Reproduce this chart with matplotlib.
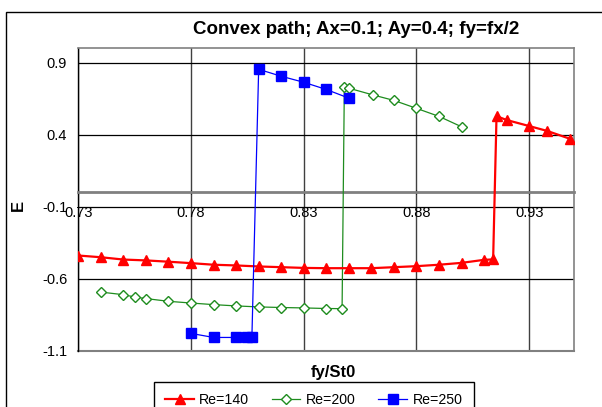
import matplotlib
matplotlib.use("Agg")
import matplotlib.pyplot as plt
from matplotlib.patches import Rectangle

plt.rcParams['font.family'] = ['Liberation Sans', 'DejaVu Sans']

# Re=140
red_x = [0.73, 0.74, 0.75, 0.76, 0.77, 0.78, 0.79, 0.80, 0.81, 0.82, 0.83, 0.84, 0.85,
         0.86, 0.87, 0.88, 0.89, 0.90, 0.91, 0.914, 0.9155, 0.92, 0.93, 0.938, 0.948]
red_y = [-0.439, -0.451, -0.467, -0.473, -0.482, -0.492, -0.503, -0.508, -0.515, -0.520,
         -0.525, -0.527, -0.527, -0.527, -0.520, -0.513, -0.503, -0.490, -0.469, -0.466,
         0.529, 0.502, 0.460, 0.426, 0.372]

# Re=200
green_x = [0.74, 0.75, 0.755, 0.76, 0.77, 0.78, 0.79, 0.80, 0.81, 0.82, 0.83, 0.84, 0.847,
           0.848, 0.85, 0.8605, 0.87, 0.88, 0.89, 0.90]
green_y = [-0.693, -0.711, -0.727, -0.738, -0.757, -0.769, -0.780, -0.789, -0.796, -0.800,
           -0.803, -0.807, -0.808, 0.732, 0.723, 0.677, 0.638, 0.583, 0.527, 0.455]

# Re=250
blue_x = [0.78, 0.79, 0.80, 0.805, 0.807, 0.810, 0.82, 0.83, 0.84, 0.85]
blue_y = [-0.980, -1.008, -1.008, -1.008, -1.004, 0.854, 0.806, 0.764, 0.714, 0.654]

xticks = [0.73, 0.78, 0.83, 0.88, 0.93]
yticks = [-1.1, -0.6, -0.1, 0.4, 0.9]

W, H = 602, 407
fig = plt.figure(figsize=(W / 100, H / 100), dpi=100)
ax = fig.add_axes([78.3 / W, 1 - 350.7 / H, (574.3 - 78.3) / W, (350.7 - 48.3) / H])

# outer chart border (cut off at right and bottom)
fig.patches.append(Rectangle((6 / W, -0.2), 1.2, 1.2 - 11.7 / H, fill=False,
                             edgecolor='black', lw=1, transform=fig.transFigure))

ax.plot(red_x, red_y, color='#ff0000', lw=1.6, marker='^', ms=7.5, mec='#ff0000',
        mfc='#ff0000', label='Re=140', zorder=5)
ax.plot(green_x, green_y, color='#1e8c1e', lw=0.9, marker='D', ms=5, mec='#1e8c1e',
        mfc='white', mew=1, label='Re=200', zorder=4)
ax.plot(blue_x, blue_y, color='#0000ff', lw=0.9, marker='s', ms=6.5, mec='#0000ff',
        mfc='#0000ff', label='Re=250', zorder=6)

ax.set_xlim(0.73, 0.95)
ax.set_ylim(-1.1, 1.0)
ax.set_xticks(xticks)
ax.set_yticks(yticks)
ax.set_xticklabels(['%.2f' % v for v in xticks])
ax.set_yticklabels(['%.1f' % v for v in yticks])

ax.yaxis.grid(True, color='black', lw=0.9)
ax.xaxis.grid(True, color='#404040', lw=1.0)
ax.set_axisbelow(True)

ax.spines['left'].set_color('black')
ax.spines['left'].set_linewidth(1)
for s in ['top', 'right']:
    ax.spines[s].set_color('#808080')
    ax.spines[s].set_linewidth(1.2)
ax.spines['bottom'].set_position(('data', 0))
ax.spines['bottom'].set_color('#808080')
ax.spines['bottom'].set_linewidth(2)
ax.axhline(-1.1, color='#808080', lw=1.5, clip_on=False, zorder=1)

ax.tick_params(axis='x', length=3, direction='inout', color='black', pad=8.5, labelsize=10.5)
ax.tick_params(axis='y', length=0, pad=8, labelsize=10.5)

fig.text(356 / W, 1 - 30 / H, 'Convex path; Ax=0.1; Ay=0.4; fy=fx/2', ha='center',
         va='center', fontsize=13.5, fontweight='bold')
fig.text(18 / W, 1 - 205 / H, 'E', rotation=90, ha='center', va='center',
         fontsize=12, fontweight='bold')
fig.text(333 / W, 1 - 372 / H, 'fy/St0', ha='center', va='center',
         fontsize=12, fontweight='bold')

leg = fig.legend(loc='upper left', bbox_to_anchor=(154 / W, 1 - 381.7 / H), ncol=3,
                 fancybox=False, edgecolor='black', framealpha=1, fontsize=10.2,
                 handlelength=2.0, handletextpad=0.4, columnspacing=1.6,
                 borderaxespad=0, borderpad=0.8)
leg.get_frame().set_linewidth(1)

fig.savefig('out.png', dpi=100)
